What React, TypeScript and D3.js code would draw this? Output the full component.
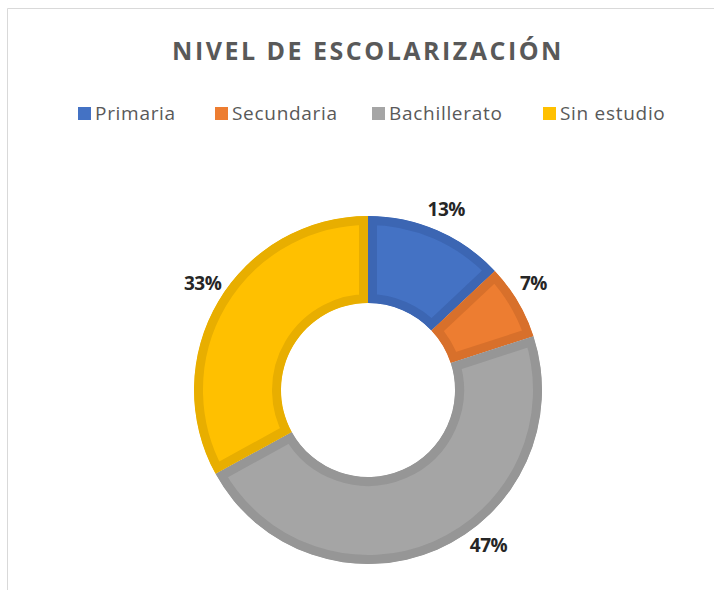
import React from "react";
import * as d3 from "d3";

const categories = ["Primaria", "Secundaria", "Bachillerato", "Sin estudio"];
const values = [13, 7, 47, 33];
const fillColors = ["#4472C4", "#ED7D31", "#A5A5A5", "#FFC000"];
const strokeColors = ["#3C66B3", "#D8702B", "#969696", "#E8AE00"];
const labelAngleShift = [0, -0.04, -0.25, 0.04];
const title = "NIVEL DE ESCOLARIZACIÓN";

const W = 714;
const H = 590;
const cx = 368;
const cy = 390;
const outerR = 174;
const innerR = 87;
const band = 9;
const labelR = 197;

const legendX = [78, 215, 372, 543];

export default function App() {
  const pie = d3.pie<number>().sort(null).value((d) => d)(values);
  const arc = d3.arc<d3.PieArcDatum<number>>().innerRadius(innerR).outerRadius(outerR);
  const total = d3.sum(values);
  return (
    <svg width={W} height={H} style={{ position: "absolute", left: 0, top: 0, background: "#fff" }}
      fontFamily="'Open Sans', 'Noto Sans', sans-serif">
      <line x1={7.5} y1={8.5} x2={W} y2={8.5} stroke="#d9d9d9" />
      <line x1={7.5} y1={8.5} x2={7.5} y2={H} stroke="#d9d9d9" />
      <text x={368} y={60} textAnchor="middle" fontSize={25} fontWeight={700} fill="#595959" letterSpacing={2.5}>
        {title}
      </text>
      {categories.map((c, i) => (
        <g key={c} transform={`translate(${legendX[i]},113)`}>
          <rect x={0} y={-6} width={13} height={13} fill={fillColors[i]} />
          <text x={17} y={7} fontSize={19} fill="#595959" letterSpacing={0.7}>{c}</text>
        </g>
      ))}
      <g transform={`translate(${cx},${cy})`}>
        <defs>
          {pie.map((p, i) => (
            <clipPath key={"c" + i} id={`slice-clip-${i}`}>
              <path d={arc(p) || ""} />
            </clipPath>
          ))}
        </defs>
        {pie.map((p, i) => (
          <path key={i} d={arc(p) || ""} fill={fillColors[i]} stroke={strokeColors[i]} strokeWidth={band * 2}
            strokeLinejoin="miter" clipPath={`url(#slice-clip-${i})`} />
        ))}
        {pie.map((p, i) => {
          const a = (p.startAngle + p.endAngle) / 2 + labelAngleShift[i];
          const x = Math.sin(a) * labelR;
          const y = -Math.cos(a) * labelR;
          return (
            <text key={"l" + i} x={x} y={y} dy="0.35em" textAnchor="middle" fontSize={19} fontWeight={700}
              fill="#262626" letterSpacing={-0.5}>
              {`${Math.round((values[i] / total) * 100)}%`}
            </text>
          );
        })}
      </g>
    </svg>
  );
}
